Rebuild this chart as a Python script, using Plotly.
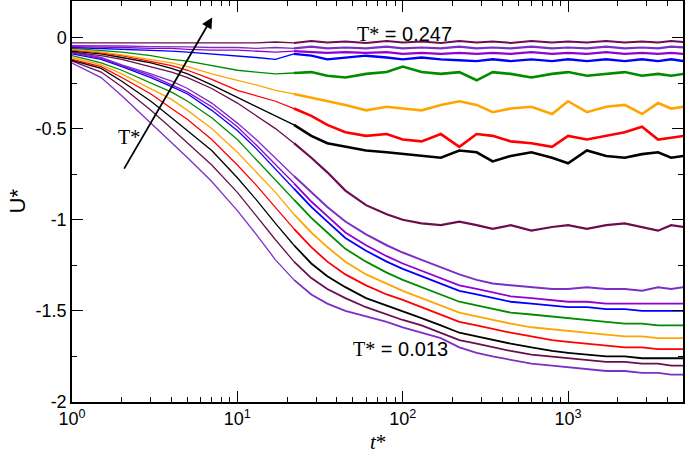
import plotly.graph_objects as go

# time grid (t*)
t_star = [1, 1.5, 2, 3, 4, 5, 7, 10, 13, 17, 22, 28, 35, 45, 60, 80, 100, 130, 170, 220,
          280, 350, 450, 600, 800, 1000, 1300, 1700, 2200, 2800, 3500, 4200, 5000]

# U* curves, lowest temperature (T*=0.013) first, highest (T*=0.247) last
u01 = [-0.14, -0.22, -0.32, -0.47, -0.58, -0.66, -0.79, -0.95, -1.08, -1.22, -1.33, -1.41, -1.46, -1.50, -1.53, -1.56, -1.59,
       -1.62, -1.65, -1.70, -1.73, -1.75, -1.77, -1.79, -1.80, -1.81, -1.82, -1.83, -1.83, -1.84, -1.84, -1.85, -1.85]
u02 = [-0.13, -0.19, -0.27, -0.40, -0.50, -0.58, -0.70, -0.85, -0.98, -1.11, -1.23, -1.32, -1.38, -1.43, -1.48, -1.52, -1.55,
       -1.58, -1.62, -1.66, -1.68, -1.70, -1.72, -1.74, -1.75, -1.76, -1.77, -1.78, -1.78, -1.79, -1.79, -1.80, -1.80]
u03 = [-0.125, -0.17, -0.24, -0.35, -0.44, -0.51, -0.62, -0.77, -0.89, -1.02, -1.14, -1.24, -1.31, -1.37, -1.43, -1.47, -1.50,
       -1.54, -1.58, -1.62, -1.64, -1.66, -1.68, -1.70, -1.72, -1.73, -1.74, -1.75, -1.75, -1.76, -1.76, -1.76, -1.76]
u04 = [-0.12, -0.16, -0.22, -0.31, -0.39, -0.45, -0.56, -0.70, -0.81, -0.93, -1.05, -1.15, -1.23, -1.30, -1.36, -1.41, -1.44,
       -1.48, -1.52, -1.56, -1.58, -1.60, -1.62, -1.64, -1.66, -1.67, -1.68, -1.69, -1.70, -1.70, -1.71, -1.71, -1.71]
u05 = [-0.11, -0.15, -0.20, -0.28, -0.34, -0.40, -0.50, -0.63, -0.74, -0.85, -0.97, -1.07, -1.15, -1.23, -1.30, -1.35, -1.39,
       -1.43, -1.47, -1.51, -1.53, -1.55, -1.57, -1.59, -1.60, -1.61, -1.62, -1.63, -1.64, -1.64, -1.65, -1.65, -1.65]
u06 = [-0.10, -0.14, -0.18, -0.25, -0.30, -0.35, -0.44, -0.56, -0.67, -0.78, -0.89, -0.99, -1.07, -1.16, -1.23, -1.29, -1.33,
       -1.37, -1.41, -1.45, -1.47, -1.49, -1.51, -1.52, -1.53, -1.54, -1.55, -1.56, -1.57, -1.57, -1.58, -1.58, -1.58]
u07 = [-0.09, -0.12, -0.16, -0.22, -0.27, -0.31, -0.40, -0.51, -0.61, -0.72, -0.83, -0.93, -1.01, -1.10, -1.17, -1.23, -1.27,
       -1.31, -1.35, -1.39, -1.41, -1.43, -1.45, -1.46, -1.47, -1.48, -1.48, -1.49, -1.49, -1.50, -1.50, -1.50, -1.50]
u08 = [-0.085, -0.115, -0.155, -0.21, -0.26, -0.30, -0.38, -0.49, -0.59, -0.70, -0.80, -0.90, -0.98, -1.07, -1.14, -1.20, -1.24,
       -1.28, -1.32, -1.36, -1.38, -1.40, -1.42, -1.43, -1.44, -1.45, -1.45, -1.46, -1.46, -1.46, -1.46, -1.46, -1.46]
u09 = [-0.08, -0.11, -0.15, -0.20, -0.24, -0.28, -0.36, -0.47, -0.56, -0.66, -0.76, -0.85, -0.93, -1.01, -1.08, -1.14, -1.18,
       -1.22, -1.26, -1.30, -1.33, -1.35, -1.36, -1.37, -1.38, -1.38, -1.37, -1.38, -1.38, -1.39, -1.37, -1.38, -1.37]
u10 = [-0.08, -0.10, -0.12, -0.16, -0.19, -0.22, -0.28, -0.36, -0.43, -0.50, -0.58, -0.66, -0.74, -0.84, -0.92, -0.97, -1.00,
       -1.02, -1.03, -1.01, -1.03, -1.05, -1.03, -1.06, -1.04, -1.03, -1.05, -1.03, -1.02, -1.04, -1.06, -1.03, -1.04]
u11 = [-0.075, -0.09, -0.11, -0.14, -0.17, -0.20, -0.26, -0.33, -0.38, -0.43, -0.48, -0.54, -0.58, -0.60, -0.62, -0.63, -0.64,
       -0.65, -0.66, -0.62, -0.63, -0.68, -0.65, -0.63, -0.66, -0.69, -0.62, -0.65, -0.66, -0.64, -0.63, -0.66, -0.65]
u12 = [-0.07, -0.085, -0.10, -0.13, -0.155, -0.18, -0.23, -0.29, -0.32, -0.35, -0.39, -0.43, -0.48, -0.52, -0.54, -0.53, -0.56,
       -0.57, -0.53, -0.60, -0.53, -0.54, -0.57, -0.58, -0.60, -0.54, -0.56, -0.54, -0.52, -0.49, -0.56, -0.55, -0.54]
u13 = [-0.065, -0.08, -0.095, -0.12, -0.14, -0.16, -0.20, -0.235, -0.26, -0.29, -0.31, -0.33, -0.35, -0.37, -0.40, -0.38, -0.39,
       -0.40, -0.37, -0.35, -0.37, -0.41, -0.39, -0.38, -0.42, -0.35, -0.41, -0.38, -0.37, -0.42, -0.36, -0.39, -0.38]
u14 = [-0.06, -0.07, -0.08, -0.10, -0.12, -0.13, -0.155, -0.18, -0.19, -0.20, -0.195, -0.19, -0.21, -0.22, -0.20, -0.19, -0.16,
       -0.19, -0.20, -0.19, -0.235, -0.19, -0.20, -0.22, -0.20, -0.19, -0.21, -0.20, -0.19, -0.21, -0.20, -0.21, -0.20]
u15 = [-0.055, -0.06, -0.065, -0.07, -0.075, -0.08, -0.09, -0.10, -0.11, -0.12, -0.09, -0.10, -0.12, -0.11, -0.10, -0.11, -0.12,
       -0.11, -0.12, -0.125, -0.13, -0.12, -0.13, -0.12, -0.13, -0.12, -0.13, -0.12, -0.13, -0.12, -0.13, -0.12, -0.13]
u16 = [-0.05, -0.052, -0.055, -0.06, -0.06, -0.065, -0.07, -0.07, -0.075, -0.08, -0.075, -0.08, -0.085, -0.08, -0.085, -0.08, -0.09,
       -0.085, -0.09, -0.085, -0.09, -0.085, -0.09, -0.08, -0.09, -0.085, -0.09, -0.08, -0.09, -0.085, -0.09, -0.085, -0.09]
u17 = [-0.045, -0.045, -0.047, -0.05, -0.05, -0.052, -0.055, -0.055, -0.06, -0.055, -0.06, -0.05, -0.06, -0.055, -0.06, -0.05, -0.06,
       -0.055, -0.06, -0.05, -0.06, -0.055, -0.06, -0.05, -0.06, -0.055, -0.06, -0.05, -0.06, -0.055, -0.06, -0.05, -0.055]
u18 = [-0.03, -0.03, -0.028, -0.03, -0.027, -0.03, -0.027, -0.027, -0.03, -0.025, -0.03, -0.02, -0.028, -0.022, -0.03, -0.02, -0.028,
       -0.022, -0.03, -0.02, -0.027, -0.022, -0.03, -0.02, -0.027, -0.022, -0.028, -0.02, -0.027, -0.022, -0.028, -0.02, -0.025]

curves = [u01, u02, u03, u04, u05, u06, u07, u08, u09, u10, u11, u12, u13, u14, u15, u16, u17, u18]

palette = ["#7a2fc6", "#6b0d4e", "#000000", "#ff0000", "#ffa500", "#008b00", "#0000ff", "#9400d3"]

y_tickvals = [0, -0.5, -1, -1.5, -2]
y_ticktext = ["0", "-0.5", "-1", "-1.5", "-2"]
x_tickvals = [1, 10, 100, 1000]
x_ticktext = ["10<sup>0</sup>", "10<sup>1</sup>", "10<sup>2</sup>", "10<sup>3</sup>"]
x_minor = [m * 10 ** d for d in range(4) for m in range(2, 10)]
y_minor = [-0.25, -0.75, -1.25, -1.75]

# early (thin) and late (noisy, thicker) portions of every curve
split = 10  # index in t_star where the noisy plateau region starts
late_width = [1.8, 1.8, 1.8, 1.8, 1.8, 1.8, 1.8, 1.8, 2.0,
              2.2, 2.6, 2.6, 2.6, 2.6, 2.4, 2.2, 2.2, 2.0]

fig = go.Figure()
for i, u in enumerate(curves):
    col = palette[i % len(palette)]
    fig.add_trace(go.Scatter(x=t_star[:split + 1], y=u[:split + 1], mode="lines",
                             line=dict(color=col, width=1.3),
                             showlegend=False, hoverinfo="skip"))
    fig.add_trace(go.Scatter(x=t_star[split:], y=u[split:], mode="lines",
                             line=dict(color=col, width=late_width[i]),
                             showlegend=False, hoverinfo="skip"))

sans = "Liberation Sans, Arial, sans-serif"
serif = "Liberation Serif, Times New Roman, serif"
axis_common = dict(showline=True, linecolor="black", linewidth=1.5, mirror="allticks",
                   ticks="inside", ticklen=11, tickwidth=1.3, tickcolor="black",
                   showgrid=False, zeroline=False, automargin=False,
                   tickfont=dict(family=sans, size=18, color="black"))

fig.update_xaxes(type="log", range=[0, 3.695], tickmode="array", tickvals=x_tickvals,
                 ticktext=x_ticktext,
                 minor=dict(ticks="inside", ticklen=5, tickwidth=1.2, tickcolor="black",
                            tickvals=x_minor, showgrid=False),
                 **axis_common)
fig.update_yaxes(range=[-2, 0.2], tickmode="array", tickvals=y_tickvals, ticktext=y_ticktext,
                 minor=dict(ticks="inside", ticklen=5, tickwidth=1.2, tickcolor="black",
                            tickvals=y_minor, showgrid=False),
                 **axis_common)

def tlabel(val):
    return ('<span style="font-family:Liberation Serif">T*</span> = ' + val)

annots = [
    # axis titles
    dict(x=0.5, y=-0.10, xref="paper", yref="paper", text="<i>t</i>*", showarrow=False,
         yanchor="middle", font=dict(family=serif, size=21, color="black")),
    dict(x=-0.09, y=0.5, xref="paper", yref="paper", text="U*", showarrow=False, textangle=-90,
         xanchor="center", font=dict(family=sans, size=22, color="black")),
    # labels
    dict(x=0.545, y=0.949, xref="paper", yref="paper", text=tlabel("0.247"), showarrow=False,
         font=dict(family=sans, size=20, color="black")),
    dict(x=0.537, y=0.10, xref="paper", yref="paper", text=tlabel("0.013"), showarrow=False,
         font=dict(family=sans, size=20, color="black")),
    dict(x=0.072, y=0.66, xref="paper", yref="paper", text="T*", showarrow=False,
         font=dict(family=serif, size=20, color="black")),
    dict(x=0.848, y=0.11, ax=0.31, ay=-0.728, xref="x", yref="y", axref="x", ayref="y",
         text="", showarrow=True, arrowhead=2, arrowsize=1.2, arrowwidth=1.8, arrowcolor="black"),
]
fig.update_layout(width=685, height=453, margin=dict(l=72, r=2, t=1, b=51),
                  plot_bgcolor="white", paper_bgcolor="white", annotations=annots)

fig.write_html("out.html", config={"displayModeBar": False},
               post_script="document.body.style.margin='0';")
